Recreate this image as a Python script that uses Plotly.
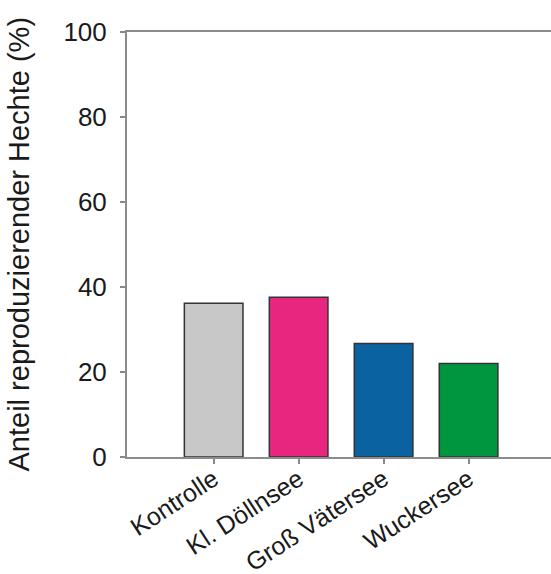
import plotly.graph_objects as go

categories = ["Kontrolle", "Kl. Döllnsee", "Groß Vätersee", "Wuckersee"]
values = [36.2, 37.6, 26.7, 22.0]
bar_colors = ["#c8c8c8", "#e8267f", "#0a62a0", "#00953f"]
y_ticks = [0, 20, 40, 60, 80, 100]
y_title = "Anteil reproduzierender Hechte (%)"

FONT = "Liberation Sans, Arial, sans-serif"

fig = go.Figure()
fig.add_trace(go.Bar(
    x=list(range(len(categories))),
    y=values,
    width=0.69,
    marker=dict(color=bar_colors, line=dict(color="#333333", width=1.5)),
))

fig.update_layout(
    width=551, height=574,
    margin=dict(l=127, r=0, t=32, b=117, autoexpand=False),
    paper_bgcolor="white", plot_bgcolor="white",
    showlegend=False,
    font=dict(family=FONT, color="#1a1a1a"),
)
fig.update_xaxes(
    range=[-1.02, 3.97], automargin=False,
    tickmode="array", tickvals=list(range(len(categories))), ticktext=categories,
    tickangle=-33, ticklabelstandoff=-9,
    ticks="outside", ticklen=5, tickwidth=1.5, tickcolor="#888888",
    showline=True, linecolor="#8c8c8c", linewidth=2, mirror=True,
    showgrid=False, zeroline=False,
    tickfont=dict(size=25, family=FONT, color="#1a1a1a"),
)
fig.update_yaxes(
    range=[0, 100], automargin=False,
    tickmode="array", tickvals=y_ticks, ticklabelstandoff=8,
    ticks="outside", ticklen=5, tickwidth=1.5, tickcolor="#888888",
    showline=True, linecolor="#8c8c8c", linewidth=2,
    showgrid=False, zeroline=False,
    tickfont=dict(size=26, family=FONT, color="#1a1a1a"),
)
fig.add_annotation(
    text=y_title, xref="paper", yref="paper",
    x=(18 - 127) / 424, y=0.5, xanchor="center", yanchor="middle",
    textangle=-90, showarrow=False,
    font=dict(size=29, family=FONT, color="#1a1a1a"),
)

fig.write_html(
    "out.html",
    config={"displayModeBar": False},
    post_script="document.body.style.margin='0';document.body.style.overflow='hidden';",
)
